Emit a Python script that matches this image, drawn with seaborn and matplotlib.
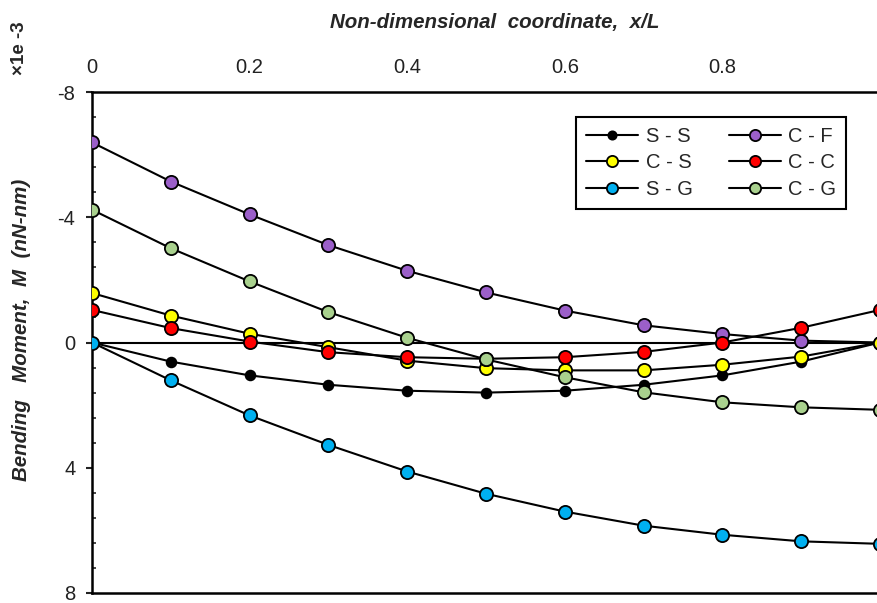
import numpy as np
import pandas as pd
import matplotlib
matplotlib.use("Agg")
import matplotlib.pyplot as plt
from matplotlib.ticker import FixedLocator, FuncFormatter
import seaborn as sns

# x/L positions and bending moment (x1e-3 nN-nm) per boundary condition
x_over_L = [0.0, 0.1, 0.2, 0.3, 0.4, 0.5, 0.6, 0.7, 0.8, 0.9, 1.0]
m_ss = [0.0, 0.61, 1.05, 1.35, 1.54, 1.60, 1.54, 1.35, 1.05, 0.61, 0.0]
m_cf = [-6.39, -5.14, -4.09, -3.11, -2.29, -1.60, -1.02, -0.55, -0.27, -0.06, 0.0]
m_cs = [-1.58, -0.86, -0.28, 0.15, 0.58, 0.82, 0.89, 0.89, 0.71, 0.45, 0.0]
m_cc = [-1.04, -0.46, -0.03, 0.31, 0.47, 0.52, 0.47, 0.30, 0.0, -0.47, -1.04]
m_sg = [0.0, 1.21, 2.33, 3.27, 4.12, 4.83, 5.40, 5.85, 6.14, 6.35, 6.43]
m_cg = [-4.24, -3.01, -1.95, -0.97, -0.15, 0.54, 1.11, 1.59, 1.91, 2.07, 2.15]

case_names = ["S - S", "C - F", "C - S", "C - C", "S - G", "C - G"]
case_values = [m_ss, m_cf, m_cs, m_cc, m_sg, m_cg]
case_colors = ["#000000", "#9b5fc9", "#ffff00", "#ff0000", "#00b0f0", "#a9d18e"]

x_ticks = [0, 0.2, 0.4, 0.6, 0.8]
y_ticks = [-8, -4, 0, 4, 8]

sns.set_style("white")
plt.rcParams["font.family"] = ["Liberation Sans", "DejaVu Sans"]
plt.rcParams["axes.unicode_minus"] = False

fig = plt.figure(figsize=(8.77, 6.03), dpi=100)
ax = fig.add_axes([92 / 877, 10 / 603, 788 / 877, 501 / 603])

ax.axhline(0, color="black", lw=1.5, zorder=1.5)

for name, vals, col in zip(case_names, case_values, case_colors):
    df = pd.DataFrame({"x": x_over_L, "M": vals})
    ms = 7 if name == "S - S" else 9.5
    sns.lineplot(data=df, x="x", y="M", ax=ax, color="black", lw=1.5,
                 marker="o", markersize=ms, markerfacecolor=col,
                 markeredgecolor="black", markeredgewidth=1.3,
                 label=name, zorder=3)

ax.set_xlim(0, 1)
ax.set_ylim(8, -8)

# x axis on top, labels only
ax.xaxis.set_ticks_position("top")
ax.xaxis.set_label_position("top")
ax.set_xticks(x_ticks)
ax.xaxis.set_major_formatter(FuncFormatter(lambda v, p: f"{v:g}"))
ax.tick_params(axis="x", length=0, pad=11, labelsize=14.5, colors="#222222")
ax.set_xlabel("Non-dimensional  coordinate,  x/L", fontsize=14.8,
              fontweight="bold", style="italic")
ax.xaxis.set_label_coords((495 - 92) / 788, (593 - 28) / 501)

ax.set_yticks(y_ticks)
ax.yaxis.set_minor_locator(FixedLocator(np.arange(-8, 8.01, 0.8)))
ax.tick_params(axis="y", which="major", direction="out", length=4, width=1.5,
               pad=8, labelsize=14.5, colors="#222222", left=True)
ax.tick_params(axis="y", which="minor", direction="in", length=3, width=1.2,
               left=True)
ax.set_ylabel("Bending   Moment,  M  (nN-nm)", fontsize=14.8,
              fontweight="bold", style="italic")
ax.yaxis.set_label_coords(-0.078, 0.525)

for side in ["top", "bottom", "left"]:
    ax.spines[side].set_visible(True)
    ax.spines[side].set_color("black")
    ax.spines[side].set_linewidth(1.8)
ax.spines["right"].set_visible(False)

handles, labels = ax.get_legend_handles_labels()
order = [0, 2, 4, 1, 3, 5]
leg = ax.legend([handles[i] for i in order], [labels[i] for i in order],
                ncol=2, loc="upper right", bbox_to_anchor=(0.957, 0.95),
                borderaxespad=0, fontsize=14.5, handlelength=2.6,
                handletextpad=0.35, columnspacing=1.8, labelspacing=0.36,
                borderpad=0.5, markerscale=0.85, fancybox=False,
                framealpha=1, edgecolor="black")
leg.get_frame().set_linewidth(1.5)

fig.text(20 / 877, 1 - 48 / 603, "×1e -3", rotation=90, fontsize=13.5,
         fontweight="bold", ha="center", va="center")

fig.savefig("out.png", dpi=100)
